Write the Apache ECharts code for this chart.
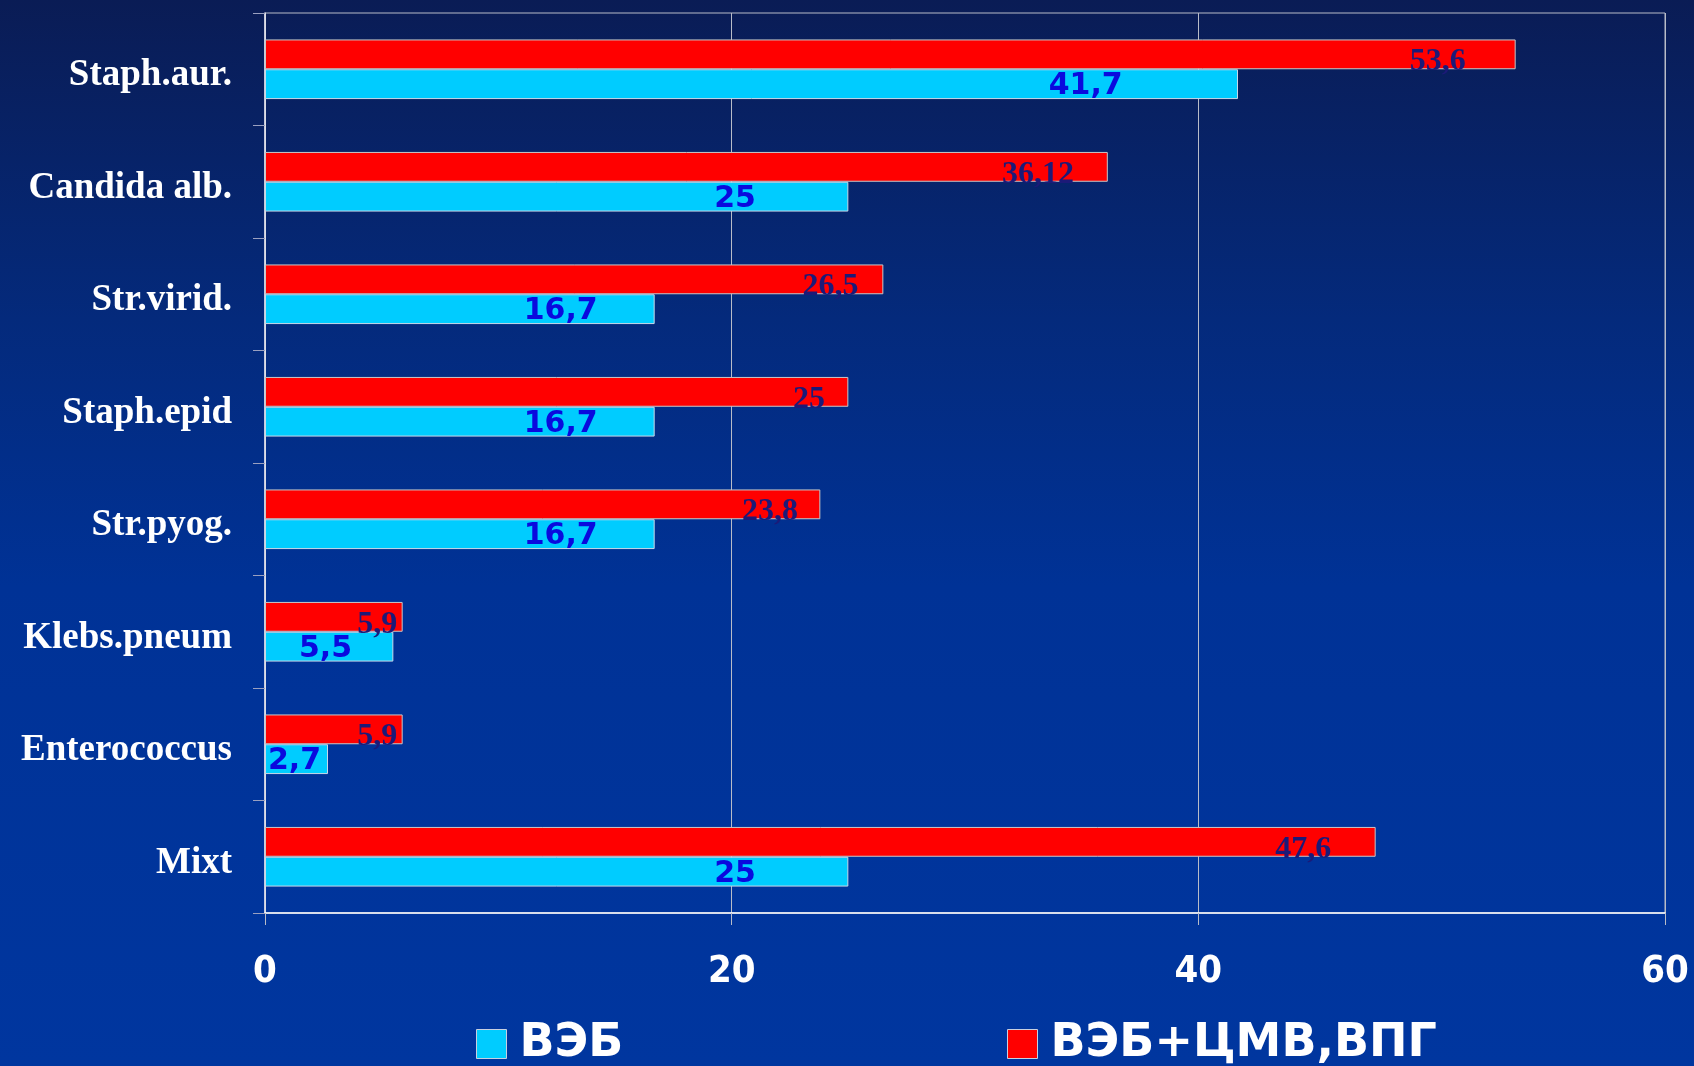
<!DOCTYPE html>
<html>
<head>
<meta charset="utf-8">
<script src="https://cdn.jsdelivr.net/npm/echarts@6/dist/echarts.min.js"></script>
<style>
  html, body { margin: 0; padding: 0; background: #00329a; }
  #chart { width: 1694px; height: 1066px; }
</style>
</head>
<body>
<div id="chart"></div>
<script>
// Organisms, listed top to bottom
const categories = ['Staph.aur.', 'Candida alb.', 'Str.virid.', 'Staph.epid', 'Str.pyog.', 'Klebs.pneum', 'Enterococcus', 'Mixt'];
// Share of patients (%) per group
const vebValues = [41.7, 25, 16.7, 16.7, 16.7, 5.5, 2.7, 25];
const vebMixValues = [53.6, 36.12, 26.5, 25, 23.8, 5.9, 5.9, 47.6];
const seriesNames = ['ВЭБ', 'ВЭБ+ЦМВ,ВПГ'];
const xTicks = [0, 20, 40, 60];

const condensedSans = "'DejaVu Sans Condensed', 'DejaVu Sans', sans-serif";
const wideSans = "'DejaVu Sans', Verdana, sans-serif";
const serif = "'Liberation Serif', 'Times New Roman', serif";
const fmt = p => String(p.value).replace('.', ',');

const legendBase = {
  icon: 'rect', itemWidth: 30, itemHeight: 29, itemGap: 0, top: 1016,
  itemStyle: { borderColor: '#c8d0e0', borderWidth: 1 },
  textStyle: { color: '#ffffff', fontFamily: wideSans, fontWeight: 'bold', fontSize: 46, padding: [0, 0, 0, 8] }
};

const catFont = { color: '#ffffff', fontFamily: serif, fontWeight: 'bold', fontSize: 37 };

const chart = echarts.init(document.getElementById('chart'));
chart.setOption({
  backgroundColor: new echarts.graphic.LinearGradient(0, 0, 0, 1, [
    { offset: 0, color: '#0a1c55' },
    { offset: 0.3, color: '#042a7c' },
    { offset: 0.55, color: '#003296' },
    { offset: 1, color: '#00369f' }
  ]),
  animation: false,
  grid: {
    left: 265, right: 29, top: 13, bottom: 153,
    show: true, borderColor: '#b8bcc8', borderWidth: 1
  },
  legend: [
    Object.assign({ data: [seriesNames[0]], left: 471 }, legendBase),
    Object.assign({ data: [seriesNames[1]], left: 1002 }, legendBase)
  ],
  xAxis: {
    type: 'value', min: xTicks[0], max: xTicks[xTicks.length - 1], interval: 20,
    axisLine: { show: true, lineStyle: { color: '#ffffff', width: 1.5 } },
    axisTick: { show: true, length: 12, lineStyle: { color: '#b8bcc8' } },
    splitLine: { show: true, lineStyle: { color: '#b8bcc8', width: 1 } },
    axisLabel: { color: '#ffffff', fontFamily: condensedSans, fontWeight: 'bold', fontSize: 38, margin: 40 }
  },
  yAxis: {
    type: 'category', data: categories, inverse: true,
    axisLine: { show: true, lineStyle: { color: '#e8e8f0', width: 1.5 } },
    axisTick: { show: true, length: 12, lineStyle: { color: '#9aa0c0' } },
    axisLabel: Object.assign({
      margin: 33,
      formatter: v => '{c|' + v + '}',
      rich: { c: Object.assign({ padding: [13, 0, 0, 0] }, catFont) }
    }, catFont)
  },
  series: [
    {
      name: seriesNames[1], type: 'bar', data: vebMixValues,
      barGap: '0%', barCategoryGap: '47%',
      itemStyle: { color: '#ff0000', borderColor: '#c8c8c8', borderWidth: 1 },
      label: {
        show: true, position: ['96%', '75%'], align: 'right', verticalAlign: 'middle',
        formatter: fmt, color: '#1c1a78', fontFamily: serif, fontWeight: 'bold', fontSize: 32
      }
    },
    {
      name: seriesNames[0], type: 'bar', data: vebValues,
      barGap: '0%', barCategoryGap: '47%',
      itemStyle: { color: '#00ccff', borderColor: '#c8d8e8', borderWidth: 1 },
      label: {
        show: true, position: 'inside',
        formatter: fmt, color: '#0a0ade', fontFamily: wideSans, fontWeight: 'bold', fontSize: 30
      },
      // value text sits towards the bar end, but never starts left of the bar
      labelLayout: function (p) {
        const w = p.labelRect.width;
        const centre = p.rect.x + p.rect.width * 0.9 - 55;
        const left = Math.max(p.rect.x + 3, centre - w / 2);
        return {
          x: left, y: p.rect.y + p.rect.height * 0.58,
          align: 'left', verticalAlign: 'middle'
        };
      }
    }
  ]
});
</script>
</body>
</html>
